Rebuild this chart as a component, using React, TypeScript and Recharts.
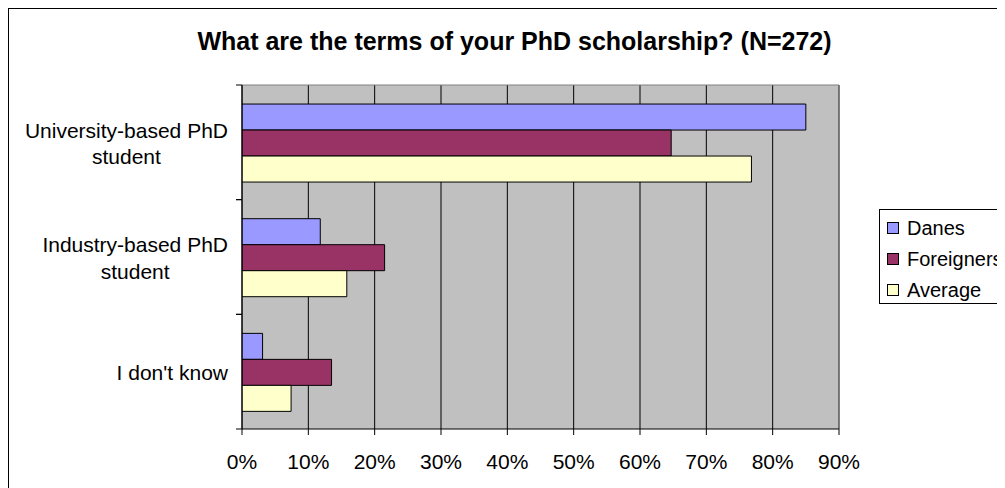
import React from 'react';
import { BarChart, Bar, XAxis, YAxis, CartesianGrid, Legend } from 'recharts';

const categories = ['University-based PhD\nstudent', 'Industry-based PhD\nstudent', "I don't know"];
const danes = [85.0, 11.8, 3.1];
const foreigners = [64.7, 21.5, 13.5];
const average = [76.8, 15.8, 7.4];
const xTicks = [0, 10, 20, 30, 40, 50, 60, 70, 80, 90];
const seriesNames = ['Danes', 'Foreigners', 'Average'];
const seriesColors = ['#9999FF', '#993366', '#FFFFCC'];
const title = 'What are the terms of your PhD scholarship? (N=272)';

const data = categories.map((c, i) => ({
  name: c,
  Danes: danes[i],
  Foreigners: foreigners[i],
  Average: average[i],
}));

const FONT = '"Liberation Sans", Arial, sans-serif';

let ctx: CanvasRenderingContext2D | null = null;
function measure(text: string, font: string): number {
  if (!ctx) ctx = document.createElement('canvas').getContext('2d');
  if (!ctx) return text.length * 10;
  ctx.font = font;
  return ctx.measureText(text).width;
}

function CategoryTick(props: any) {
  const { x, y, payload, height } = props;
  const lines = String(payload.value).split('\n');
  const fs = 21;
  const lh = 26.6;
  const widths = lines.map((l) => measure(l, `${fs}px ${FONT}`));
  const maxW = Math.max(...widths);
  const right = x - 14;
  const cx = right - maxW / 2;
  const firstBaseline = y + 8.5 - ((lines.length - 1) * lh) / 2;
  const band =
    typeof height === 'number' && height > 0
      ? height / categories.length
      : payload && payload.offset
      ? payload.offset * 2
      : 0;
  return (
    <g>
      <text fontSize={fs} fontFamily={FONT} fill="#000" textAnchor="middle">
        {lines.map((l, i) => (
          <tspan key={i} x={cx} y={firstBaseline + i * lh}>
            {l}
          </tspan>
        ))}
      </text>
      <line x1={x - 6} x2={x} y1={y - band / 2} y2={y - band / 2} stroke="#000" />
      <line x1={x - 6} x2={x} y1={y + band / 2} y2={y + band / 2} stroke="#000" />
    </g>
  );
}

const renderLegend = () => (
  <div
    style={{
      border: '1px solid #000',
      width: 200,
      height: 93,
      position: 'relative',
      background: '#fff',
      fontFamily: FONT,
      fontSize: 20,
      color: '#000',
    }}
  >
    {seriesNames.map((n, i) => (
      <div
        key={n}
        style={{
          position: 'absolute',
          left: 7,
          top: 18 + i * 31 - 12,
          height: 24,
          display: 'flex',
          alignItems: 'center',
          whiteSpace: 'nowrap',
        }}
      >
        <span
          style={{
            width: 10,
            height: 10,
            border: '1px solid #000',
            background: seriesColors[i],
            display: 'inline-block',
            marginRight: 8,
          }}
        />
        <span>{n}</span>
      </div>
    ))}
  </div>
);

export default function App() {
  return (
    <div style={{ position: 'relative', width: 1000, height: 482 }}>
      <style>{'body{overflow:hidden}'}</style>
      <div
        style={{
          position: 'absolute',
          left: 0,
          top: 0,
          width: 1100,
          height: 600,
          border: '1px solid #000',
          boxSizing: 'border-box',
          pointerEvents: 'none',
        }}
      />
      <div
        style={{
          position: 'absolute',
          left: 0,
          top: 18.6,
          width: 1013,
          textAlign: 'center',
          fontFamily: FONT,
          fontWeight: 'bold',
          fontSize: 25,
          lineHeight: '28px',
          color: '#000',
          whiteSpace: 'nowrap',
          zIndex: 2,
        }}
      >
        {title}
      </div>
      <BarChart
        width={1000}
        height={482}
        data={data}
        layout="vertical"
        margin={{ top: 77, right: 169, bottom: 21, left: 233 }}
        barCategoryGap="16.6%"
        barGap={0}
      >
        <CartesianGrid horizontal={false} vertical stroke="#000" fill="#C0C0C0" fillOpacity={1} />
        <CartesianGrid
          horizontal
          vertical
          stroke="#808080"
          horizontalCoordinatesGenerator={({ offset }: any) => [offset.top]}
          verticalCoordinatesGenerator={({ offset }: any) => [offset.left + offset.width]}
        />
        <XAxis
          type="number"
          domain={[0, 90]}
          ticks={xTicks}
          interval={0}
          allowDataOverflow
          tickFormatter={(v: number) => `${v}%`}
          height={40}
          axisLine={{ stroke: '#000' }}
          tickLine={{ stroke: '#000' }}
          tickSize={6}
          tickMargin={19}
          tick={{ fontSize: 21, fill: '#000', fontFamily: FONT }}
        />
        <YAxis
          type="category"
          dataKey="name"
          width={1}
          interval={0}
          axisLine={{ stroke: '#000' }}
          tickLine={false}
          tickSize={0}
          tickMargin={0}
          tick={<CategoryTick />}
        />
        <Bar dataKey="Danes" fill={seriesColors[0]} stroke="#000" strokeWidth={1} isAnimationActive={false} />
        <Bar dataKey="Foreigners" fill={seriesColors[1]} stroke="#000" strokeWidth={1} isAnimationActive={false} />
        <Bar dataKey="Average" fill={seriesColors[2]} stroke="#000" strokeWidth={1} isAnimationActive={false} />
        <Legend
          layout="vertical"
          verticalAlign="middle"
          align="center"
          wrapperStyle={{ left: 871, top: 201, width: 200 }}
          content={renderLegend}
        />
      </BarChart>
    </div>
  );
}
